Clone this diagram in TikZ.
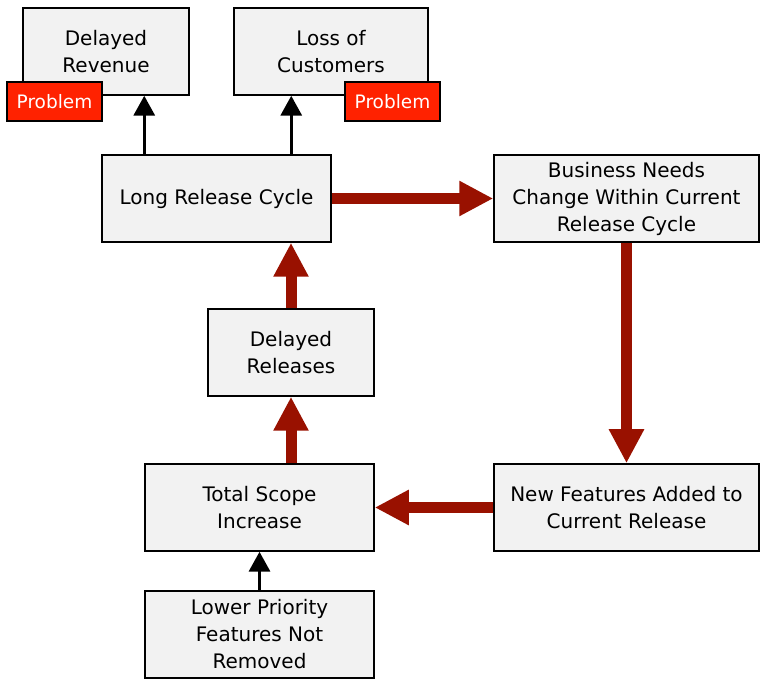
\documentclass[tikz,border=0pt]{standalone}
\usepackage{fontspec}
\setmainfont{DejaVu Sans}
\usetikzlibrary{arrows.meta,positioning}
\definecolor{boxgray}{HTML}{F2F2F2}
\definecolor{arrowred}{HTML}{991100}
\definecolor{probred}{HTML}{FF2200}
\tikzset{
  box/.style={draw=black,line width=1.5pt,fill=boxgray,align=center,inner sep=0pt,
    font=\fontsize{20}{27}\selectfont},
  smallbox/.style={box,minimum width=166pt,minimum height=87pt},
  widebox/.style={box,minimum width=229pt,minimum height=87pt},
  bigbox/.style={box,minimum width=265pt,minimum height=87pt},
  problem/.style={draw=black,line width=1.5pt,fill=probred,text=white,inner sep=0pt,
    minimum width=95pt,minimum height=39pt,font=\fontsize{18.5}{20}\selectfont},
  redarrow/.style={draw=arrowred,line width=11pt,-{Triangle[length=34pt,width=33pt]},arrowred},
  blackarrow/.style={draw=black,line width=3.5pt,-{Triangle[length=20pt,width=21pt]}}
}
\begin{document}
\begin{tikzpicture}[x=1pt,y=1pt]
\useasboundingbox (0,0) rectangle (766,684);
\node[smallbox] (revenue) at (106,632.5) {Delayed\\Revenue};
\node[box,minimum width=194pt,minimum height=87pt] (customers) at (331,632.5) {Loss of\\Customers};
\node[problem] (prob1) at (54.5,582.5) {Problem};
\node[problem] (prob2) at (392.5,582.5) {Problem};
\node[widebox] (cycle) at (216.5,485.5) {Long Release Cycle};
\node[bigbox] (needs) at (626.5,485.5) {Business Needs\\Change Within Current\\Release Cycle};
\node[smallbox] (releases) at (291,331.5) {Delayed\\Releases};
\node[widebox] (scope) at (259.5,176.5) {Total Scope\\Increase};
\node[bigbox] (features) at (626.5,176.5) {New Features Added to\\Current Release};
\node[widebox] (lower) at (259.5,49.5) {Lower Priority\\Features Not\\Removed};

\draw[blackarrow] ([xshift=43pt]cycle.north west) -- ([xshift=43pt]cycle.north west |- revenue.south);
\draw[blackarrow] ([xshift=190pt]cycle.north west) -- ([xshift=190pt]cycle.north west |- customers.south);
\draw[blackarrow] (lower) -- (scope);

\draw[redarrow] (cycle) -- (needs);
\draw[redarrow] (needs) -- (features);
\draw[redarrow] (features) -- (scope);
\draw[redarrow] (scope.north -| releases) -- (releases);
\draw[redarrow] (releases) -- (releases.north |- cycle.south);
\end{tikzpicture}
\end{document}
